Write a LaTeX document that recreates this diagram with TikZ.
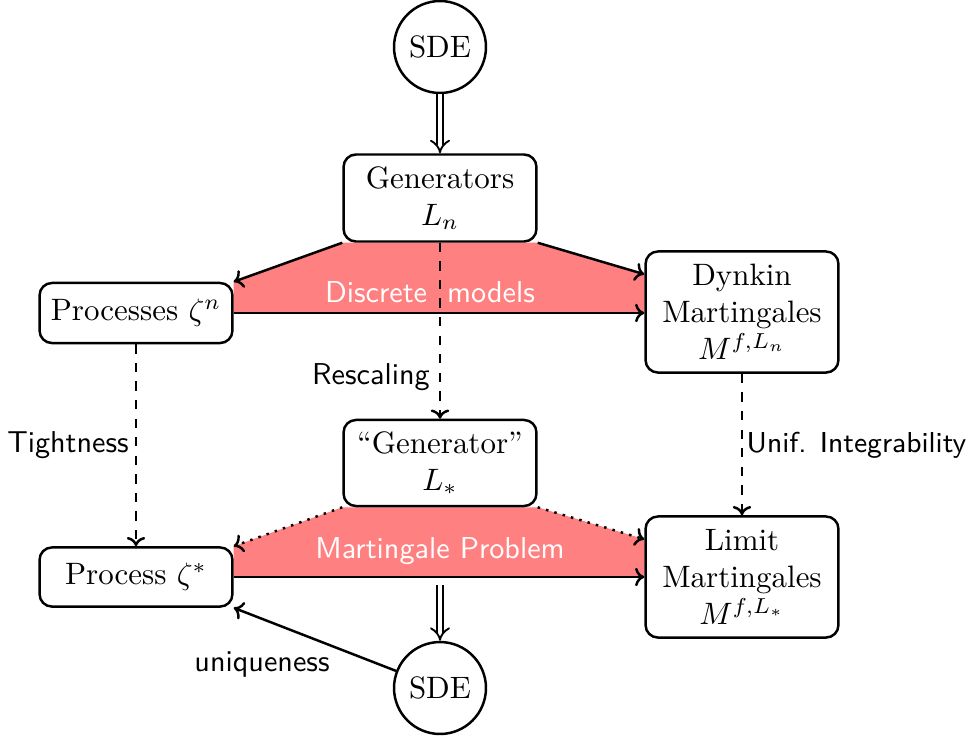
\documentclass[tikz,border=0pt]{standalone}
\usetikzlibrary{arrows.meta,backgrounds}
\begin{document}
\begin{tikzpicture}[x=0.323pt,y=-0.323pt,>={To[length=3pt,width=6pt]},
  box/.style={draw,thick,rounded corners=4pt,fill=white,minimum width=62.3pt,align=center,inner sep=3pt},
  sde/.style={draw,thick,circle,minimum size=29.7pt,inner sep=0pt,fill=white},
  conn/.style={->,thick},
  dconn/.style={->,thick,dashed},
  tconn/.style={->,thick,dotted},
  dbl/.style={double,double distance=1.6pt,semithick,-{Implies}},
  lbl/.style={font=\sffamily\fontsize{9.75pt}{11.5pt}\selectfont},
  wlbl/.style={lbl,text=white},
  redfill/.style={fill=red!50}]
\useasboundingbox (0,0) rectangle (971,742);
% nodes
\node[sde] (sdeA) at (440,47) {SDE};
\node[box,minimum height=28.1pt] (G) at (440,198) {Generators\\$L_n$};
\node[box,minimum height=19.4pt] (P) at (136,313) {Processes $\zeta^n$};
\node[box,minimum height=39.1pt] (D) at (742,312) {Dynkin\\Martingales\\$M^{f,L_n}$};
\node[box,minimum height=27.8pt] (GS) at (440,463) {``Generator''\\$L_*$};
\node[box,minimum height=19.1pt] (PS) at (136,577) {Process $\zeta^*$};
\node[box,minimum height=39.1pt] (LM) at (742,577) {Limit\\Martingales\\$M^{f,L_*}$};
\node[sde] (sdeB) at (440,688) {SDE};
\coordinate (dt) at ([yshift=-7.75pt]D.north west);
\coordinate (lt) at ([yshift=-7.75pt]LM.north west);
\coordinate (ds) at (440,585);
% red regions
\begin{pgfonlayer}{background}
\fill[redfill] (G.south west) -- (G.south east) -- (dt) -- (D.west |- P.east) -- (P.east) -- (P.north east) -- cycle;
\fill[redfill] (GS.south west) -- (GS.south east) -- (lt) -- (LM.west |- PS.east) -- (PS.east) -- (PS.north east) -- cycle;
\end{pgfonlayer}
\node[wlbl] (disc) at (430,292) {Discrete\ \ models};
\node[wlbl] (mp) at (440,551) {Martingale Problem};
% connectors
\draw[dbl] (sdeA) -- (G);
\draw[conn] (G.south west) -- (P.north east);
\draw[conn] (G.south east) -- (dt);
\draw[conn] (P.east) -- (D.west |- P.east);
\draw[dconn] (G.south) -- (GS.north);
\draw[dconn] (P.south) -- (PS.north);
\draw[dconn] (D.south) -- (LM.north);
\draw[tconn] (GS.south west) -- (PS.north east);
\draw[tconn] (GS.south east) -- (lt);
\draw[conn] (PS.east) -- (LM.west |- PS.east);
\draw[dbl] (ds) -- (sdeB);
\draw[conn] (sdeB) -- (PS.south east);
% labels
\node[lbl] (resc) at (371,377) {Rescaling};
\node[lbl] (tight) at (68,445) {Tightness};
\node[lbl,font=\sffamily\fontsize{9.3pt}{11pt}\selectfont,anchor=east,inner xsep=1pt] (unif) at (970,445) {Unif. Integrability};
\node[lbl] (uniq) at (262,665) {uniqueness};
\end{tikzpicture}
\end{document}
